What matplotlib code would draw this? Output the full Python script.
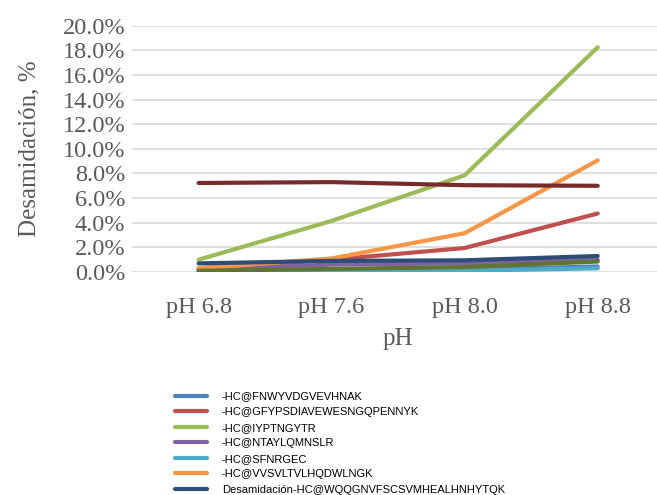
import matplotlib
matplotlib.use("Agg")
import matplotlib.pyplot as plt
from matplotlib.ticker import PercentFormatter

# categories and series values (fractions)
ph_labels = ["pH 6.8", "pH 7.6", "pH 8.0", "pH 8.8"]

fnwyv = [0.0005, 0.001, 0.002, 0.0045]
gfyps = [0.003, 0.010, 0.0195, 0.0475]
iyptn = [0.0100, 0.0415, 0.0785, 0.1825]
ntayl = [0.002, 0.006, 0.007, 0.010]
sfnrg = [0.0, 0.0003, 0.001, 0.003]
vvsvl = [0.003, 0.011, 0.0315, 0.0907]
wqqgn = [0.007, 0.009, 0.0095, 0.013]
extra1 = [0.0723, 0.0730, 0.0705, 0.0700]
extra2 = [0.001, 0.0025, 0.004, 0.0085]

series = [
    ("-HC@FNWYVDGVEVHNAK", fnwyv, "#4F81BD"),
    ("-HC@GFYPSDIAVEWESNGQPENNYK", gfyps, "#C0504D"),
    ("-HC@IYPTNGYTR", iyptn, "#9BBB59"),
    ("-HC@NTAYLQMNSLR", ntayl, "#8064A2"),
    ("-HC@SFNRGEC", sfnrg, "#4BACC6"),
    ("-HC@VVSVLTVLHQDWLNGK", vvsvl, "#F79646"),
    ("Desamidación-HC@WQQGNVFSCSVMHEALHNHYTQK", wqqgn, "#2C4D75"),
    ("_extra1", extra1, "#772C2A"),
    ("_extra2", extra2, "#5F7530"),
]

serif = "Liberation Serif"
gray = "#595959"

fig = plt.figure(figsize=(6.57, 4.95), dpi=100)
ax = fig.add_axes([0.201, 0.4505, 0.81, 0.4975])

x = range(len(ph_labels))
for name, vals, col in series:
    ax.plot(x, vals, color=col, lw=3.0, solid_capstyle="round",
            solid_joinstyle="round", label=name)

ax.set_xlim(-0.5, 3.5)
ax.set_ylim(0, 0.2)
ax.set_yticks([i * 0.02 for i in range(11)])
ax.yaxis.set_major_formatter(PercentFormatter(1.0, decimals=1))
ax.set_xticks(list(x))
ax.set_xticklabels(ph_labels)
ax.grid(axis="y", color="#D9D9D9", lw=1.2)
ax.set_axisbelow(True)
for s in ax.spines.values():
    s.set_visible(False)
ax.tick_params(length=0, labelcolor=gray, labelsize=17.5, pad=5)
for t in ax.get_xticklabels() + ax.get_yticklabels():
    t.set_fontfamily(serif)
ax.tick_params(axis="x", pad=18)

ax.set_ylabel("Desamidación, %", fontsize=18, color=gray, family=serif, labelpad=16)
ax.set_xlabel("pH", fontsize=18, color=gray, family=serif, labelpad=7)

fig.legend(loc="upper left", bbox_to_anchor=(0.26, 0.218), frameon=False,
           prop={"family": "Liberation Sans", "size": 8},
           handlelength=2.9, handletextpad=1.3, labelspacing=0.5,
           borderaxespad=0)

fig.savefig("out.png", dpi=100)
